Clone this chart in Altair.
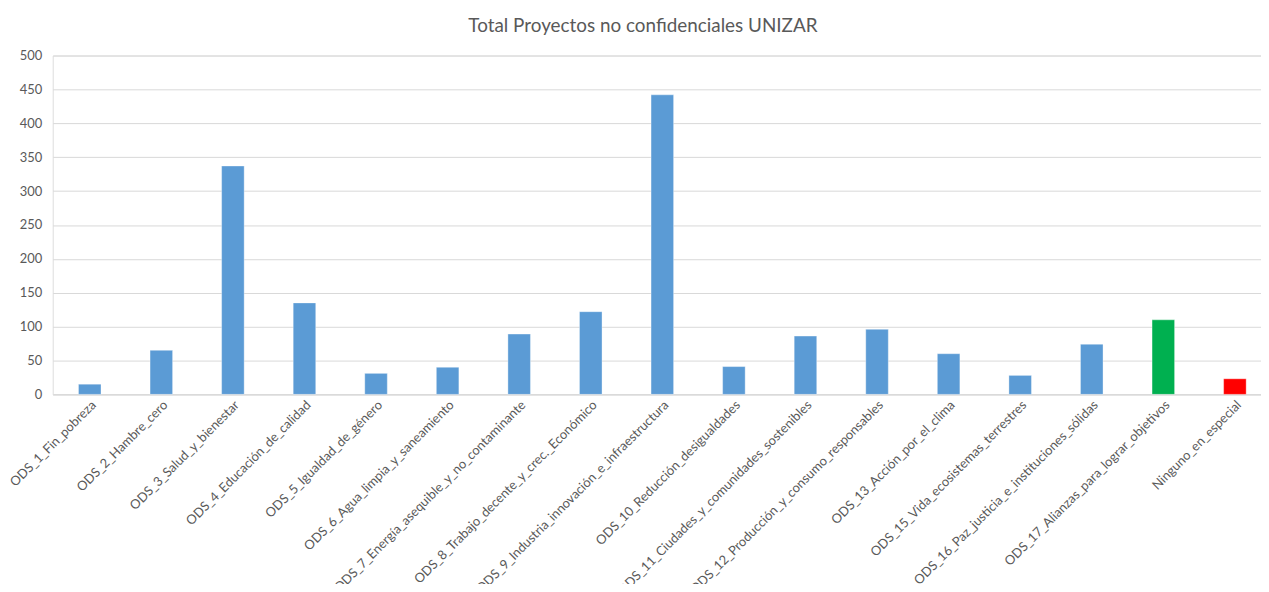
import altair as alt
import pandas as pd

categorias = [
    "ODS_1_Fin_pobreza",
    "ODS_2_Hambre_cero",
    "ODS_3_Salud_y_bienestar",
    "ODS_4_Educación_de_calidad",
    "ODS_5_Igualdad_de_género",
    "ODS_6_Agua_limpia_y_saneamiento",
    "ODS_7_Energía_asequible_y_no_contaminante",
    "ODS_8_Trabajo_decente_y_crec._Económico",
    "ODS_9_Industria_innovación_e_infraestructura",
    "ODS_10_Reducción_desigualdades",
    "ODS_11_Ciudades_y_comunidades_sostenibles",
    "ODS_12_Producción_y_consumo_responsables",
    "ODS_13_Acción_por_el_clima",
    "ODS_15_Vida_ecosistemas_terrestres",
    "ODS_16_Paz_justicia_e_instituciones_sólidas",
    "ODS_17_Alianzas_para_lograr_objetivos",
    "Ninguno_en_especial",
]
valores = [15, 65, 337, 135, 31, 40, 89, 122, 442, 41, 86, 96, 60, 28, 74, 110, 23]

df = pd.DataFrame({"Categoria": categorias, "Total": valores})

GRAY = "#595959"
FONT = "Lato"

color_expr = (
    alt.when(alt.datum.Categoria == "ODS_17_Alianzas_para_lograr_objetivos")
    .then(alt.value("#00B050"))
    .when(alt.datum.Categoria == "Ninguno_en_especial")
    .then(alt.value("#FF0000"))
    .otherwise(alt.value("#5B9BD5"))
)

chart = (
    alt.Chart(df)
    .mark_bar(stroke="#ffffff", strokeWidth=0.6, strokeOpacity=0.6)
    .encode(
        x=alt.X(
            "Categoria:N",
            sort=categorias,
            title=None,
            scale=alt.Scale(paddingInner=0.685, paddingOuter=0.36, range=[0, 1227]),
            axis=alt.Axis(
                labelAngle=-45,
                labelAlign="right",
                labelBaseline="top",
                labelColor=GRAY,
                labelFont=FONT,
                labelFontSize=13,
                labelPadding=4,
                labelLimit=400,
                ticks=False,
                domainColor="#D9D9D9",
                domainWidth=1,
                grid=False,
            ),
        ),
        y=alt.Y(
            "Total:Q",
            title=None,
            scale=alt.Scale(domain=[0, 500], nice=False),
            axis=alt.Axis(
                values=list(range(0, 501, 50)),
                labelColor=GRAY,
                labelFont=FONT,
                labelFontSize=13,
                labelPadding=11,
                ticks=False,
                domain=False,
                gridColor="#D9D9D9",
                gridWidth=1,
            ),
        ),
        color=color_expr,
    )
    .properties(
        width=1216,
        height=341,
        title=alt.TitleParams(
            "Total Proyectos no confidenciales UNIZAR",
            font=FONT,
            fontSize=19,
            fontWeight="normal",
            color=GRAY,
            anchor="middle",
            offset=14,
            dx=-14,
        ),
        autosize=alt.AutoSizeParams(type="none"),
        padding={"left": 45, "top": 46, "right": 0, "bottom": 189},
    )
    .configure_view(stroke=None)
    .configure(background="white")
)

chart.save("out.html", embed_options={"renderer": "svg", "actions": False})
